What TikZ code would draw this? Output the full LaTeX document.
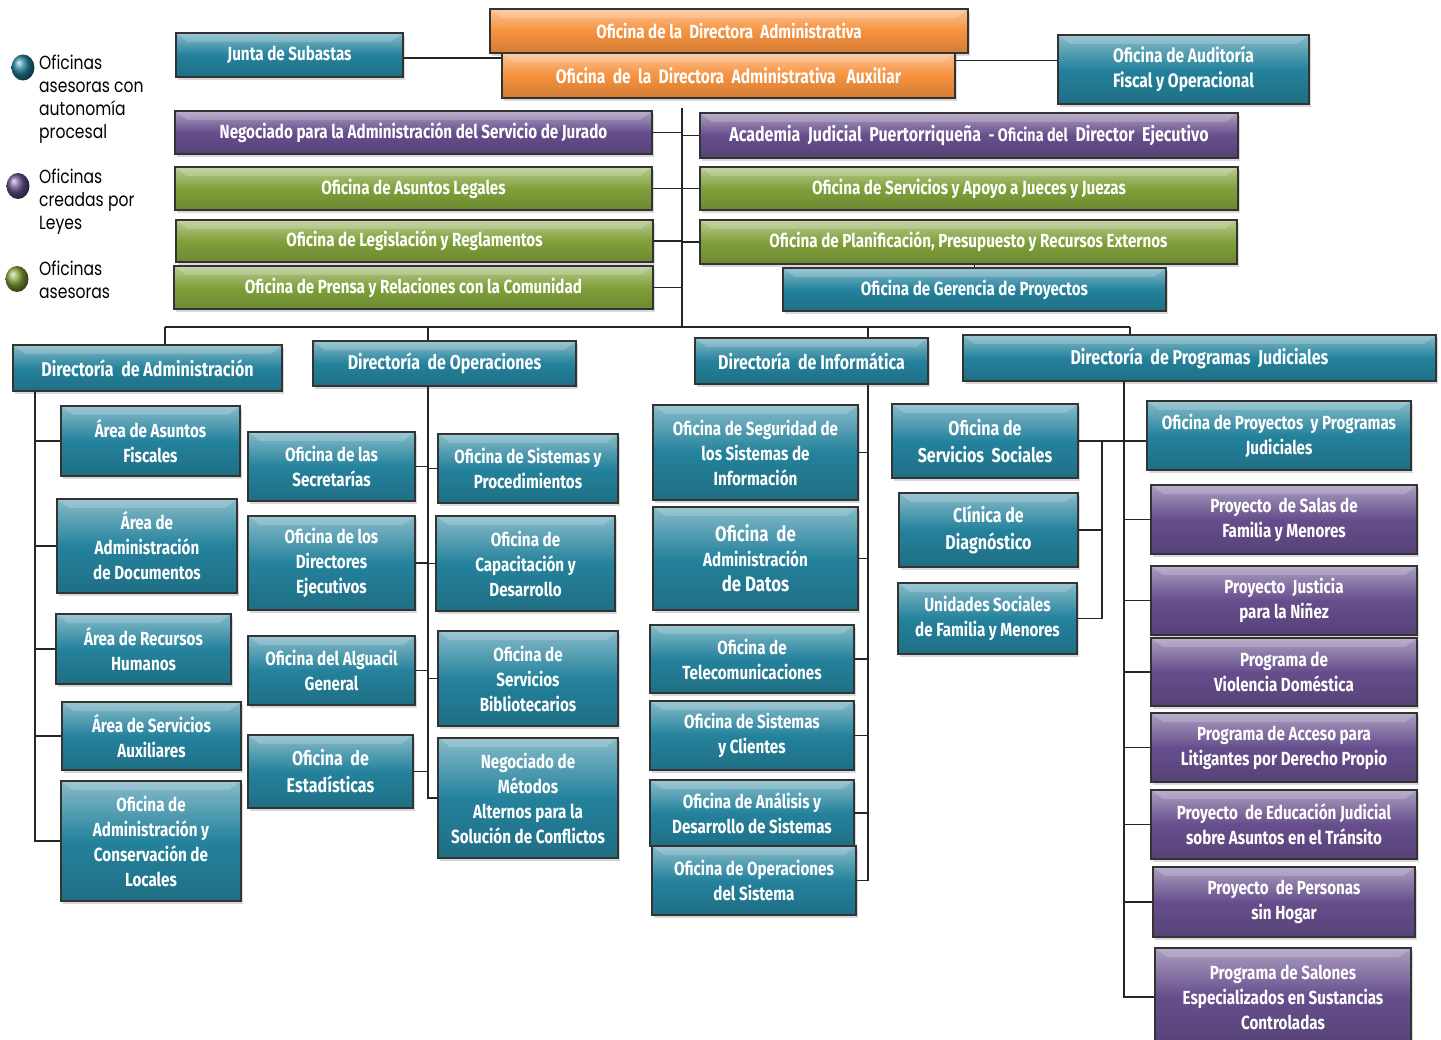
\documentclass[tikz,border=0pt]{standalone}
\usepackage{fontspec}
\setmainfont{Fira Sans}
\newfontfamily\cajafont{Fira Sans}[FakeStretch=0.8]
\newfontfamily\leyfont{Poppins}[FakeStretch=0.82]
\usetikzlibrary{shadows,shapes.geometric}
\definecolor{azul}{RGB}{36,130,156}
\definecolor{naranja}{RGB}{246,146,62}
\definecolor{morado}{RGB}{102,78,140}
\definecolor{verde}{RGB}{128,160,58}
\begin{document}
\begin{tikzpicture}[x=1pt,y=-1pt,
	caja/.style={draw=black!80, line width=1.5pt, align=center, text=white, inner sep=1pt,
		font=\cajafont\bfseries\fontsize{19}{25}\selectfont,
		drop shadow={shadow xshift=2pt, shadow yshift=-3pt, opacity=0.3},
		path picture={\fill[white,opacity=0.18] (path picture bounding box.north west) -- (path picture bounding box.north east) -- ([xshift=-12pt,yshift=-9pt]path picture bounding box.north east) -- ([xshift=12pt,yshift=-9pt]path picture bounding box.north west) -- cycle;}},
	pinta/.style={top color=#1!55!white, bottom color=#1!85!black, middle color=#1},
	media/.style={font=\cajafont\bfseries\fontsize{19.5}{26}\selectfont},
	grande/.style={font=\cajafont\bfseries\fontsize{20}{27}\selectfont},
	bola/.style={ellipse, minimum width=23pt, minimum height=26pt, inner sep=0pt, ball color=#1},
	leyenda/.style={anchor=north west, align=left, inner sep=0pt, font=\leyfont\fontsize{19}{23}\selectfont},
	linea/.style={line width=1.5pt, black!85}]
	\useasboundingbox (0,0) rectangle (1441,1040);
	\clip (0,0) rectangle (1441,1040);
	% leyenda
	\node[bola=azul] (b1) at (23,67.5) {};
	\node[bola=morado] (b2) at (18,186) {};
	\node[bola=verde] (b3) at (17,279) {};
	\node[leyenda] (ley1) at (39,55) {Oficinas\\asesoras con\\autonomía\\procesal};
	\node[leyenda] (ley2) at (39,169) {Oficinas\\creadas por\\Leyes};
	\node[leyenda] (ley3) at (39,261) {Oficinas\\asesoras};
	% direccion y oficinas asesoras
	\node[caja, pinta=azul, minimum width=227, minimum height=44] (junta) at (289.5,55) {Junta de Subastas};
	\node[caja, pinta=naranja, minimum width=478, minimum height=44] (dira) at (729,31) {Oficina de la \ Directora \ Administrativa};
	\node[caja, pinta=naranja, media, minimum width=453, minimum height=45] (aux) at (728.5,75.5) {Oficina \ de \ la \ Directora \ Administrativa \ \ Auxiliar};
	\node[caja, pinta=azul, media, minimum width=251, minimum height=69] (audit) at (1183.5,69.5) {Oficina de Auditoría\\[-1pt]Fiscal y Operacional};
	\node[caja, pinta=morado, minimum width=477, minimum height=43] (jurado) at (413.5,132.5) {Negociado para la Administración del Servicio de Jurado};
	\node[caja, pinta=morado, grande, minimum width=538, minimum height=45] (academia) at (969,135.5) {Academia \ Judicial \ Puertorriqueña \ {\fontsize{18}{20}\selectfont - Oficina del} \ Director \ Ejecutivo};
	\node[caja, pinta=verde, minimum width=477, minimum height=43] (legales) at (413.5,188.5) {Oficina de Asuntos Legales};
	\node[caja, pinta=verde, minimum width=538, minimum height=43] (apoyo) at (969,188.5) {Oficina de Servicios y Apoyo a Jueces y Juezas};
	\node[caja, pinta=verde, minimum width=477, minimum height=42] (legis) at (414.5,241) {Oficina de Legislación y Reglamentos};
	\node[caja, pinta=verde, minimum width=537, minimum height=44] (planif) at (968.5,242) {Oficina de Planificación, Presupuesto y Recursos Externos};
	\node[caja, pinta=verde, minimum width=479, minimum height=43] (prensa) at (413.5,287.5) {Oficina de Prensa y Relaciones con la Comunidad};
	\node[caja, pinta=azul, minimum width=383, minimum height=43] (geren) at (974.5,289.5) {Oficina de Gerencia de Proyectos};
	% directorias
	\node[caja, pinta=azul, grande, minimum width=269, minimum height=46] (dadm) at (147.5,368) {Directoría \ de Administración};
	\node[caja, pinta=azul, grande, minimum width=263, minimum height=45] (dop) at (444.5,363.5) {Directoría \ de Operaciones};
	\node[caja, pinta=azul, grande, minimum width=233, minimum height=46] (dinf) at (811.5,361) {Directoría \ de Informática};
	\node[caja, pinta=azul, grande, minimum width=473, minimum height=46] (dprog) at (1199.5,358) {Directoría \ de Programas \ Judiciales};
	% administracion
	\node[caja, pinta=azul, minimum width=179, minimum height=70] (fisc) at (150.5,441) {Área de Asuntos\\Fiscales};
	\node[caja, pinta=azul, minimum width=180, minimum height=94] (docs) at (147,546) {Área de\\Administración\\de Documentos};
	\node[caja, pinta=azul, minimum width=175, minimum height=70] (rrhh) at (143.5,649) {Área de Recursos\\Humanos};
	\node[caja, pinta=azul, minimum width=179, minimum height=68] (saux) at (151.5,736) {Área de Servicios\\Auxiliares};
	\node[caja, pinta=azul, minimum width=180, minimum height=120] (locales) at (151,841) {Oficina de\\Administración y\\Conservación de\\Locales};
	% operaciones
	\node[caja, pinta=azul, minimum width=167, minimum height=69] (secr) at (331.5,466.5) {Oficina de las\\Secretarías};
	\node[caja, pinta=azul, minimum width=167, minimum height=94] (direj) at (331.5,563) {Oficina de los\\Directores\\Ejecutivos};
	\node[caja, pinta=azul, minimum width=167, minimum height=69] (algu) at (331.5,670.5) {Oficina del Alguacil\\General};
	\node[caja, pinta=azul, grande, minimum width=165, minimum height=73] (estad) at (330.5,771.5) {Oficina \ de\\Estadísticas};
	\node[caja, pinta=azul, minimum width=180, minimum height=69] (sispro) at (528,468.5) {Oficina de Sistemas y\\Procedimientos};
	\node[caja, pinta=azul, minimum width=179, minimum height=95] (capac) at (525.5,563.5) {Oficina de\\Capacitación y\\Desarrollo};
	\node[caja, pinta=azul, minimum width=180, minimum height=95] (biblio) at (528,678.5) {Oficina de\\Servicios\\Bibliotecarios};
	\node[caja, pinta=azul, minimum width=180, minimum height=120] (metodos) at (528,798) {Negociado de\\Métodos\\Alternos para la\\Solución de Conflictos};
	% informatica
	\node[caja, pinta=azul, minimum width=205, minimum height=95] (segur) at (755.5,452.5) {Oficina de Seguridad de\\los Sistemas de\\Información};
	\node[caja, pinta=azul, minimum width=205, minimum height=103] (datos) at (755.5,558.5) {{\fontsize{21}{28}\selectfont Oficina \ de}\\Administración\\{\fontsize{21}{28}\selectfont de Datos}};
	\node[caja, pinta=azul, minimum width=204, minimum height=68] (telecom) at (752,659) {Oficina de\\Telecomunicaciones};
	\node[caja, pinta=azul, minimum width=204, minimum height=69] (clientes) at (752,735.5) {Oficina de Sistemas\\y Clientes};
	\node[caja, pinta=azul, minimum width=204, minimum height=66] (analisis) at (752,813) {Oficina de Análisis y\\Desarrollo de Sistemas};
	\node[caja, pinta=azul, minimum width=204, minimum height=69] (opsis) at (754,880.5) {Oficina de Operaciones\\del Sistema};
	% programas judiciales
	\node[caja, pinta=azul, grande, minimum width=186, minimum height=74] (ssoc) at (985,441) {Oficina de\\Servicios \ Sociales};
	\node[caja, pinta=azul, grande, minimum width=179, minimum height=74] (clin) at (988.5,530) {Clínica de\\Diagnóstico};
	\node[caja, pinta=azul, minimum width=179, minimum height=71] (unid) at (987.5,618.5) {Unidades Sociales\\de Familia y Menores};
	\node[caja, pinta=azul, minimum width=264, minimum height=69] (proyjud) at (1279,435.5) {Oficina de Proyectos \ y Programas\\Judiciales};
	\node[caja, pinta=morado, minimum width=266, minimum height=69] (salas) at (1284,519.5) {Proyecto \ de Salas de\\Familia y Menores};
	\node[caja, pinta=morado, minimum width=266, minimum height=69] (ninez) at (1284,600.5) {Proyecto \ Justicia\\para la Niñez};
	\node[caja, pinta=morado, minimum width=266, minimum height=68] (violencia) at (1284,672) {Programa de\\Violencia Doméstica};
	\node[caja, pinta=morado, minimum width=266, minimum height=69] (acceso) at (1284,747.5) {Programa de Acceso para\\Litigantes por Derecho Propio};
	\node[caja, pinta=morado, minimum width=266, minimum height=69] (transito) at (1284,824.5) {Proyecto \ de Educación Judicial\\sobre Asuntos en el Tránsito};
	\node[caja, pinta=morado, minimum width=262, minimum height=70] (hogar) at (1284,902) {Proyecto \ de Personas\\sin Hogar};
	\node[caja, pinta=morado, minimum width=256, minimum height=98] (salones) at (1283,997) {Programa de Salones\\Especializados en Sustancias\\Controladas};
	% lineas
	\coordinate (tronco) at (682,108);
	\coordinate (busI) at (165,327);
	\coordinate (busD) at (1130,327);
	\draw[linea] ([yshift=-3pt]junta.east) -- ([yshift=-3pt]junta.east -| aux.west);
	\draw[linea] ([yshift=9pt]audit.west) -- ([yshift=9pt]audit.west -| aux.east);
	\draw[linea] (tronco) -- (tronco |- busI);
	\foreach \n in {jurado,legales,legis,prensa}{
		\draw[linea] (\n.east) -- (\n.east -| tronco);
	}
	\foreach \n in {academia,apoyo,planif}{
		\draw[linea] (\n.west) -- (\n.west -| tronco);
	}
	\draw[linea] (planif.south -| geren.north) -- (geren.north);
	\draw[linea] (busI) -- (busD);
	\foreach \x/\n in {165/dadm,428/dop,868/dinf,1130/dprog}{
		\draw[linea] (\x,327) -- (\n.north -| \x,0);
	}
	\foreach \n in {fisc,docs,rrhh,saux,locales}{
		\draw[linea] (dadm.south -| 35,0) |- (\n.west);
	}
	\foreach \n in {secr,direj,algu,estad}{
		\draw[linea] (dop.south -| 428,0) |- (\n.east);
	}
	\foreach \n in {sispro,capac,biblio,metodos}{
		\draw[linea] (dop.south -| 428,0) |- (\n.west);
	}
	\foreach \n in {segur,datos,telecom,clientes,analisis,opsis}{
		\draw[linea] (dinf.south -| 868,0) |- (\n.east);
	}
	\foreach \n in {salas,ninez,violencia,acceso,transito,hogar,salones}{
		\draw[linea] (dprog.south -| 1124,0) |- (\n.west);
	}
	\draw[linea] (ssoc.east) -- (ssoc.east -| proyjud.west);
	\foreach \n in {clin,unid}{
		\draw[linea] (ssoc.east -| 1102,0) |- (\n.east);
	}
\end{tikzpicture}
\end{document}
